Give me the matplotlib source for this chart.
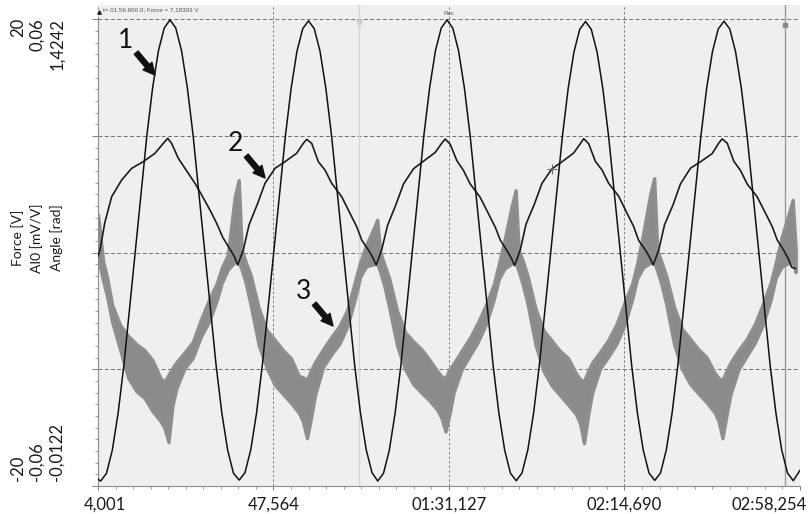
import matplotlib.pyplot as plt
import matplotlib.transforms as mtransforms
import numpy as np

plt.rcParams['font.family'] = ['Lato', 'DejaVu Sans']

# time axis (s) and its labels
tick_t = [4.001, 47.564, 91.127, 134.690, 178.254]
tick_lbl = ['4,001', '47,564', '01:31,127', '02:14,690', '02:58,254']

# channel ranges
force_lim = (-20, 20)
ai0_lim = (-0.06, 0.06)
angle_lim = (-0.0122, 1.4242)
left_top = ['20', '0,06', '1,4242']
left_bot = ['-20', '-0,06', '-0,0122']
left_names = ['Force [V]', 'AI0 [mV/V]', 'Angle [rad]']

# curve 1 - Angle [rad]
angle_t = [4.00,
    4.68, 6.11, 7.55, 8.98, 10.41, 13.28, 16.14, 17.57, 19.00, 20.44, 21.87, 23.30, 24.74, 26.17, 27.60, 30.47, 33.33, 34.76, 36.19, 37.63,
    39.06, 40.49, 41.93, 43.36, 44.79, 47.66, 50.52, 51.95, 53.38, 54.82, 56.25, 57.68, 59.12, 60.55, 61.98, 64.85, 67.71, 69.14, 70.57, 72.01,
    73.44, 74.87, 76.31, 77.74, 79.17, 82.04, 84.90, 86.33, 87.76, 89.20, 90.63, 92.06, 93.50, 94.93, 96.36, 99.23, 102.09, 103.52, 104.95, 106.39,
    107.82, 109.25, 110.69, 112.12, 113.55, 116.42, 119.28, 120.71, 122.14, 123.58, 125.01, 126.44, 127.88, 129.31, 130.74, 133.61, 136.47, 137.90, 139.33, 140.77,
    142.20, 143.63, 145.07, 146.50, 147.93, 150.80, 153.66, 155.09, 156.52, 157.96, 159.39, 160.82, 162.26, 163.69, 165.12, 167.99, 170.85, 172.28, 173.71, 175.15,
    176.58, 178.25]
angle_v = [0.009,
    0.003, 0.027, 0.098, 0.211, 0.358, 0.713, 1.068, 1.215, 1.328, 1.398, 1.423, 1.398, 1.328, 1.215, 1.068, 0.713, 0.358, 0.211, 0.098, 0.027,
    0.006, 0.029, 0.100, 0.213, 0.360, 0.712, 1.066, 1.213, 1.326, 1.396, 1.420, 1.396, 1.326, 1.213, 1.066, 0.712, 0.360, 0.213, 0.100, 0.029,
    0.003, 0.027, 0.098, 0.211, 0.358, 0.713, 1.068, 1.215, 1.328, 1.398, 1.423, 1.398, 1.328, 1.215, 1.068, 0.713, 0.358, 0.211, 0.098, 0.027,
    0.004, 0.028, 0.099, 0.212, 0.359, 0.712, 1.065, 1.212, 1.324, 1.394, 1.418, 1.394, 1.324, 1.212, 1.065, 0.712, 0.359, 0.212, 0.099, 0.028,
    0.005, 0.028, 0.099, 0.212, 0.359, 0.713, 1.066, 1.213, 1.325, 1.395, 1.419, 1.395, 1.325, 1.213, 1.066, 0.713, 0.359, 0.212, 0.099, 0.028,
    0.004, 0.036]

# curve 2 - Force [V]
force_t = [4.00, 4.50, 5.70, 7.40, 9.88, 12.37, 15.25, 18.15, 20.21, 21.30,
    22.28, 23.93, 26.42, 28.08, 29.74, 31.80, 33.46, 35.00, 36.60, 37.80, 38.68,
    40.07, 41.50, 43.60, 45.45, 47.94, 50.42, 53.32, 54.96, 55.81, 57.05, 58.69, 60.35, 62.01, 64.49, 66.55, 68.22, 69.46, 71.10, 72.20, 73.06,
    74.45, 75.88, 77.98, 79.83, 82.32, 84.80, 87.70, 89.34, 90.19, 91.43, 93.07, 94.73, 96.39, 98.87, 100.93, 102.60, 103.84, 105.48, 106.58, 107.43,
    108.82, 110.25, 112.35, 114.20, 116.69, 119.17, 122.07, 123.71, 124.56, 125.80, 127.44, 129.10, 130.76, 133.24, 135.30, 136.97, 138.21, 139.85, 140.95, 141.81,
    143.20, 144.63, 146.73, 148.58, 151.07, 153.55, 156.45, 158.09, 158.94, 160.18, 161.82, 163.48, 165.14, 167.62, 169.68, 171.35, 172.59, 174.23, 175.33, 176.19,
    177.10]
force_v = [-0.30, 0.24, 2.60, 4.81, 6.24, 7.24, 7.81, 8.53, 9.38, 9.81,
    9.38, 8.10, 6.81, 5.95, 4.95, 3.66, 2.52, 1.30, 0.40, -0.30, -1.05,
    0.24, 2.40, 4.20, 5.95, 7.24, 7.81, 8.53, 9.38, 9.72, 9.38, 7.81, 7.09, 5.95, 4.81, 3.38, 2.23, 1.09, 0.24, -0.40, -1.05,
    0.30, 2.35, 4.15, 5.90, 7.20, 7.85, 8.60, 9.40, 9.75, 9.30, 7.90, 7.05, 5.90, 4.75, 3.35, 2.20, 1.10, 0.20, -0.45, -1.10,
    0.25, 2.45, 4.20, 5.95, 7.20, 7.80, 8.55, 9.35, 9.78, 9.35, 7.85, 7.10, 5.95, 4.85, 3.40, 2.25, 1.05, 0.25, -0.40, -1.05,
    0.25, 2.40, 4.10, 5.90, 7.25, 7.80, 8.50, 9.40, 9.76, 9.40, 7.85, 7.05, 5.90, 4.80, 3.40, 2.25, 1.10, 0.20, -0.50, -1.25,
    -1.35]

# curve 3 - AI0 [mV/V], noisy band given as upper / lower envelope
ai0_t = [4.00, 5.30, 6.30, 7.50, 9.50, 11.50, 13.50, 15.50, 17.50, 19.50, 20.50, 21.50, 22.50, 23.50, 25.50, 27.50, 29.50, 31.50, 33.50, 34.70, 36.20,
    37.93, 38.93, 39.68, 40.68, 41.88, 43.88, 45.88, 47.88, 49.88, 51.88, 53.88, 54.88, 55.88, 56.88, 57.88, 59.88, 61.88, 63.88, 65.88, 67.88, 69.08, 70.58,
    72.31, 73.31, 74.06, 75.06, 76.26, 78.26, 80.26, 82.26, 84.26, 86.26, 88.26, 89.26, 90.26, 91.26, 92.26, 94.26, 96.26, 98.26, 100.26, 102.26, 103.46, 104.96,
    106.68, 107.68, 108.43, 109.43, 110.63, 112.63, 114.63, 116.63, 118.63, 120.63, 122.63, 123.63, 124.63, 125.63, 126.63, 128.63, 130.63, 132.63, 134.63, 136.63, 137.83, 139.33,
    141.06, 142.06, 142.81, 143.81, 145.01, 147.01, 149.01, 151.01, 153.01, 155.01, 157.01, 158.01, 159.01, 160.01, 161.01, 163.01, 165.01, 167.01, 169.01, 171.01, 172.21, 173.71,
    175.44, 176.44, 177.19]
ai0_hi = [0.0097, -0.0024, -0.0065, -0.0134, -0.0186, -0.0214, -0.0235, -0.0250, -0.0276, -0.0322, -0.0332, -0.0314, -0.0296, -0.0281, -0.0256, -0.0230, -0.0173, -0.0122, -0.0078, -0.0039, -0.0006,
    0.0143, 0.0187, 0.0007, -0.0024, -0.0057, -0.0142, -0.0199, -0.0224, -0.0250, -0.0271, -0.0317, -0.0320, -0.0327, -0.0302, -0.0281, -0.0248, -0.0217, -0.0189, -0.0147, -0.0070, -0.0024, 0.0020,
    0.0060, 0.0085, 0.0002, -0.0030, -0.0065, -0.0150, -0.0205, -0.0228, -0.0248, -0.0275, -0.0305, -0.0318, -0.0322, -0.0300, -0.0285, -0.0252, -0.0220, -0.0180, -0.0135, -0.0080, -0.0030, 0.0035,
    0.0120, 0.0161, 0.0005, -0.0020, -0.0060, -0.0145, -0.0200, -0.0226, -0.0252, -0.0270, -0.0310, -0.0325, -0.0330, -0.0305, -0.0283, -0.0255, -0.0225, -0.0185, -0.0130, -0.0078, -0.0028, 0.0050,
    0.0150, 0.0192, 0.0008, -0.0022, -0.0058, -0.0140, -0.0196, -0.0222, -0.0248, -0.0268, -0.0308, -0.0322, -0.0328, -0.0303, -0.0282, -0.0250, -0.0222, -0.0184, -0.0132, -0.0076, -0.0026, 0.0040,
    0.0100, 0.0136, 0.0010]
ai0_lo = [-0.0012, -0.0073, -0.0114, -0.0178, -0.0250, -0.0322, -0.0356, -0.0373, -0.0407, -0.0433, -0.0451, -0.0487, -0.0392, -0.0348, -0.0297, -0.0271, -0.0217, -0.0178, -0.0122, -0.0078, -0.0044,
    -0.0024, -0.0024, -0.0044, -0.0078, -0.0134, -0.0237, -0.0296, -0.0340, -0.0363, -0.0386, -0.0412, -0.0435, -0.0477, -0.0425, -0.0366, -0.0294, -0.0262, -0.0235, -0.0190, -0.0115, -0.0062, -0.0035,
    -0.0030, -0.0028, -0.0050, -0.0085, -0.0140, -0.0240, -0.0300, -0.0338, -0.0360, -0.0380, -0.0405, -0.0425, -0.0460, -0.0415, -0.0360, -0.0300, -0.0265, -0.0230, -0.0185, -0.0120, -0.0068, -0.0040,
    -0.0028, -0.0025, -0.0048, -0.0082, -0.0132, -0.0238, -0.0305, -0.0342, -0.0366, -0.0390, -0.0415, -0.0438, -0.0490, -0.0420, -0.0362, -0.0298, -0.0268, -0.0236, -0.0188, -0.0118, -0.0066, -0.0038,
    -0.0026, -0.0024, -0.0046, -0.0080, -0.0130, -0.0236, -0.0300, -0.0338, -0.0362, -0.0384, -0.0410, -0.0432, -0.0477, -0.0418, -0.0364, -0.0300, -0.0266, -0.0232, -0.0186, -0.0120, -0.0065, -0.0036,
    -0.0026, -0.0024, -0.0050]

# cursor readout
cursor_t = [116.6]
cursor_force = [7.18303]
marker_t = [68.8, 174.5]

# curve numbers with arrows (pointing at the curves, in Force units)
ann_lbl = ['1', '2', '3']
ann_t = [18.15, 45.45, 62.33]
ann_force = [15.24, 6.41, -6.28]


def do_plot():
    W, H = 809, 514
    fig = plt.figure(figsize=(W / 100, H / 100), dpi=100)
    ax = fig.add_axes([98 / W, (H - 486) / H, (800 - 98) / W, (486 - 5) / H])
    header = 14.5 / 466.5   # grey strip above the top grid line

    def lim(lo, hi):
        return lo, hi + (hi - lo) * header

    ax.set_facecolor('#efefef')
    ax.set_xlim(tick_t[0], tick_t[-1])
    ax.set_ylim(*lim(*ai0_lim))
    ax.set_axisbelow(True)

    ax.set_xticks(tick_t)
    ax.set_xticklabels(tick_lbl, fontsize=12, color='#1a1a1a')
    ax.set_xticks(np.linspace(tick_t[0], tick_t[-1], 41), minor=True)
    ax.set_yticks(np.linspace(ai0_lim[0], ai0_lim[1], 5))
    ax.set_yticks(np.linspace(ai0_lim[0], ai0_lim[1], 41), minor=True)
    ax.set_yticklabels([])
    ax.tick_params(axis='x', which='major', length=3, width=0.7, color='#808080', pad=5)
    ax.tick_params(axis='x', which='minor', length=2, width=0.6, color='#909090')
    ax.tick_params(axis='y', which='major', length=4, width=0.7, color='#808080')
    ax.tick_params(axis='y', which='minor', length=2, width=0.6, color='#909090')
    ax.grid(axis='x', color='#6e6e6e', linestyle=(0, (3, 2.5)), linewidth=0.6)
    ax.grid(axis='y', color='#6e6e6e', linestyle=(0, (4, 2.5)), linewidth=0.7)
    for s in ['top', 'right']:
        ax.spines[s].set_visible(False)
    ax.spines['left'].set_bounds(*ai0_lim)
    ax.spines['left'].set_color('#8c8c8c')
    ax.spines['bottom'].set_color('#8c8c8c')

    tl = ax.get_xticklabels()
    tl[0].set_transform(tl[0].get_transform() + mtransforms.ScaledTranslation(0.07, 0, fig.dpi_scale_trans))
    tl[-1].set_horizontalalignment('right')
    tl[-1].set_transform(tl[-1].get_transform() + mtransforms.ScaledTranslation(0.07, 0, fig.dpi_scale_trans))

    # cursor / marker lines
    ax.axvline(marker_t[0], color='#d6d6d6', lw=1.0, zorder=0.8)
    ax.axvline(marker_t[1], color='#9a9a9a', lw=1.0, zorder=0.8)

    # curve 3 (noisy, drawn as a band with a heavy edge)
    ax.fill_between(ai0_t, ai0_lo, ai0_hi, color='#8b8b8b', linewidth=2.4, edgecolor='#8e8e8e')

    ax_f = ax.twinx()
    ax_f.set_ylim(*lim(*force_lim))
    ax_a = ax.twinx()
    ax_a.set_ylim(*lim(*angle_lim))
    for a in (ax_f, ax_a):
        a.axis('off')

    ax_a.plot(angle_t, angle_v, color='#111111', lw=1.1)
    ax_f.plot(force_t, force_v, color='#1c1c1c', lw=1.2)
    ax_f.plot(cursor_t, cursor_force, '+', color='#6a6a6a', ms=7, mew=0.8)

    for lbl, t, v in zip(ann_lbl, ann_t, ann_force):
        ax_f.annotate(lbl, xy=(t, v), xytext=(-21, 25), textcoords='offset points',
                      ha='center', va='center', fontsize=19, color='#111111',
                      arrowprops=dict(arrowstyle='simple,head_length=0.7,head_width=0.7,tail_width=0.3',
                                      color='#111111', mutation_scale=12, shrinkA=0, shrinkB=0))

    # header strip texts and marks
    ax.text(0.007, 0.9896, 't= 01:56.600.0; Force = 7,18303 V', transform=ax.transAxes,
            fontsize=4.5, color='#555555', va='center', family='Liberation Sans')
    trans = mtransforms.blended_transform_factory(ax.transData, ax.transAxes)
    ax.text(tick_t[2], 0.982, 'Rec', transform=trans, fontsize=4.5, color='#555555',
            ha='center', va='center', family='Liberation Sans')
    ax.plot([0.002], [0.985], marker='^', ms=2.5, color='#222222', transform=ax.transAxes, clip_on=False)
    ax.plot([marker_t[0]], [0.962], marker='v', ms=4, color='#d0d0d0', transform=trans, clip_on=False)
    ax.plot([marker_t[1]], [0.958], marker='s', ms=2.2, color='#8a8a8a', transform=trans, clip_on=False)

    # stacked channel scales on the left
    xs = [18 / W, 37 / W, 57 / W]
    for x, top, bot, name in zip(xs, left_top, left_bot, left_names):
        fig.text(x, 1 - 18 / H, top, rotation=90, ha='center', va='top', fontsize=12, color='#1a1a1a')
        fig.text(x, 1 - 481 / H, bot, rotation=90, ha='center', va='bottom', fontsize=12, color='#1a1a1a')
        fig.text(x, 1 - 238 / H, name, rotation=90, ha='center', va='center', fontsize=10, color='#1a1a1a')

    plt.savefig('out.png', dpi=100)


if __name__ == '__main__':
    do_plot()
